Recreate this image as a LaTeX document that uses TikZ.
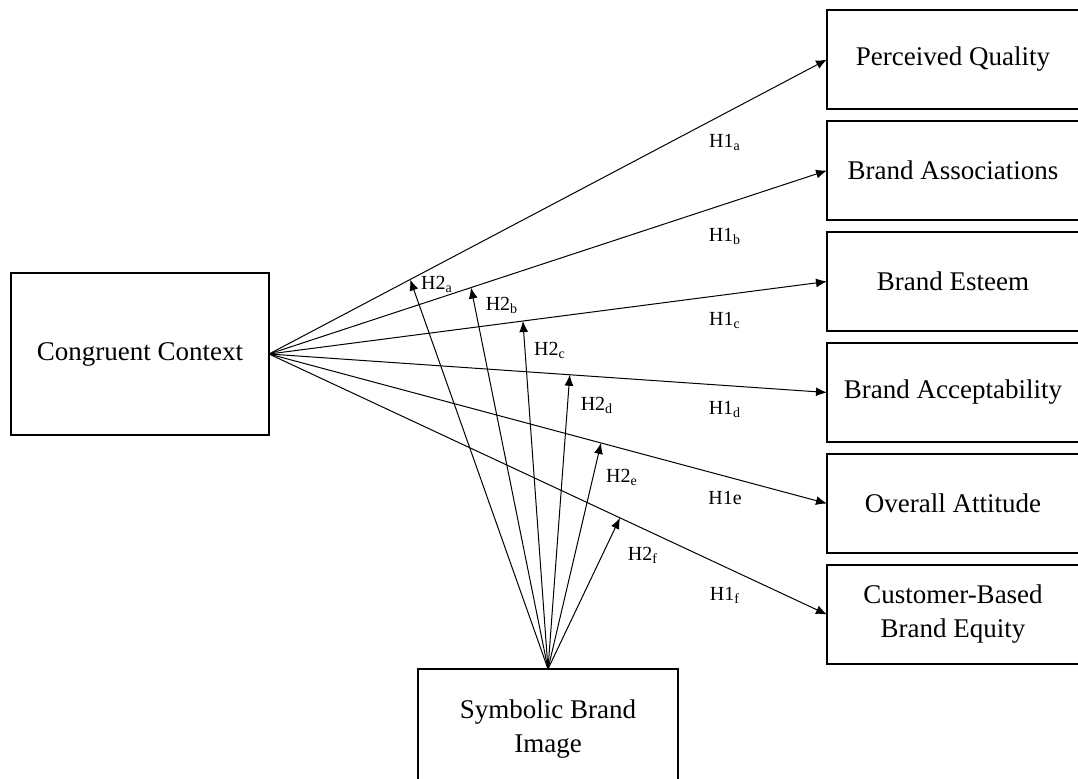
\documentclass[tikz,border=0pt]{standalone}
\usepackage{fontspec}
\setmainfont{Liberation Serif}
\usetikzlibrary{arrows.meta}
\usetikzlibrary{positioning}
\tikzstyle{box}=[draw, line width=1pt, minimum width=126pt, minimum height=49.5pt,
inner sep=0pt, outer sep=0pt, align=center, font=\fontsize{13.5}{17}\selectfont]
\tikzstyle{myarrow}=[-{Latex[length=5.5pt,width=4.5pt]}, line width=0.5pt]
\tikzstyle{hyp}=[inner sep=0pt, font=\fontsize{10}{12}\selectfont]

\begin{document}
\begin{tikzpicture}[x=0.5pt, y=-0.5pt, node distance=6pt]
    \useasboundingbox (0,0) rectangle (1078,778);

    \node[box, minimum width=129pt, minimum height=81pt] (CC) at (140,354) {Congruent Context};

    \node[box] (PQ) at (953,59.5) {Perceived Quality};
    \node[box, below=of PQ] (BA) {Brand Associations};
    \node[box, below=of BA] (BE) {Brand Esteem};
    \node[box, below=of BE] (BAc) {Brand Acceptability};
    \node[box, below=of BAc] (OA) {Overall Attitude};
    \node[box, below=of OA] (CBBE) {Customer-Based\\Brand Equity};

    \node[box, minimum width=130pt, minimum height=60pt] (SBI) at (548,729) {Symbolic Brand\\Image};

    % H1 paths, H2 paths end on them
    \foreach \b/\p/\t in {PQ/0.253/a, BA/0.362/b, BE/0.455/c, BAc/0.539/d, OA/0.595/e, CBBE/0.629/f}{
        \draw[myarrow] (CC.east) -- (\b.west) coordinate[pos=\p] (t\t);
        \draw[myarrow] (SBI.north) -- (t\t);
    }

    \node[hyp] (H1a) at (725,142) {H1\textsubscript{a}};
    \node[hyp] (H1b) at (725,236) {H1\textsubscript{b}};
    \node[hyp] (H1c) at (725,320) {H1\textsubscript{c}};
    \node[hyp] (H1d) at (725,409) {H1\textsubscript{d}};
    \node[hyp] (H1e) at (725,498) {H1e};
    \node[hyp] (H1f) at (725,595) {H1\textsubscript{f}};

    \node[hyp] (H2a) at (437,284) {H2\textsubscript{a}};
    \node[hyp] (H2b) at (502,305) {H2\textsubscript{b}};
    \node[hyp] (H2c) at (550,350) {H2\textsubscript{c}};
    \node[hyp] (H2d) at (597,405) {H2\textsubscript{d}};
    \node[hyp] (H2e) at (622,477) {H2\textsubscript{e}};
    \node[hyp] (H2f) at (643,555) {H2\textsubscript{f}};

\end{tikzpicture}
\end{document}
